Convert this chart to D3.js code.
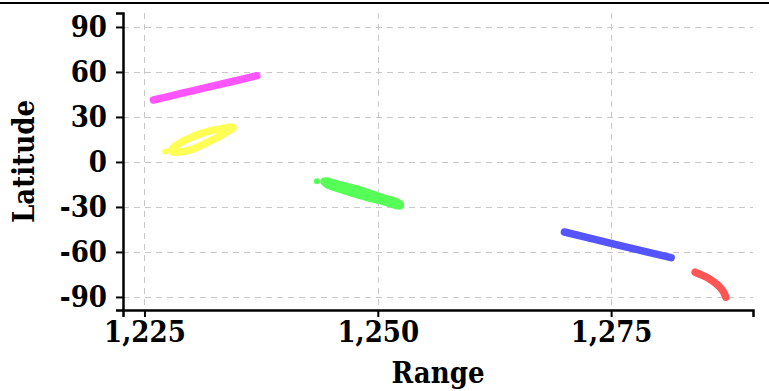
<!DOCTYPE html>
<html>
<head>
<meta charset="utf-8">
<script src="https://cdn.jsdelivr.net/npm/d3@7"></script>
<style>
  body { margin: 0; background: #fff; }
  text { font-family: 'DejaVu Serif', serif; font-weight: bold; font-stretch: condensed; }
</style>
</head>
<body>
<svg width="769" height="391"></svg>
<script>
// ranges and latitudes
const xTicks = [1225, 1250, 1275];
const yTicks = [-90, -60, -30, 0, 30, 60, 90];

const magentaTrack = [[1225.96, 41.3], [1227.75, 43.9], [1229.9, 47.1], [1232.04, 50.2], [1234.18, 53.3], [1237.04, 57.5]];
// yellow loop: upper branch out, lower branch back
const yellowTrack = [[1227.97, 8.7], [1228.82, 12.7], [1229.9, 16.0], [1230.97, 18.7], [1232.04, 20.7], [1233.11, 22.0], [1234.29, 23.3],
    [1234.5, 22.7], [1233.97, 20.7], [1233.11, 17.3], [1232.04, 14.0], [1230.97, 10.7], [1229.9, 8.0], [1228.82, 6.7], [1227.97, 6.7]];
const greenTrack = [[1244.25, -12.7], [1245.97, -15.3], [1248.11, -18.7], [1250.25, -23.3], [1252.39, -28.0],
    [1252.39, -29.3], [1250.79, -26.7], [1248.64, -23.3], [1246.5, -19.3], [1244.47, -14.7]];
const blueTrack = [[1270.0, -46.7], [1275.64, -55.3], [1281.43, -63.8]];
const redTrack = [[1284.0, -73.5], [1285.42, -77.5], [1286.5, -82.5], [1287.03, -86.5], [1287.29, -90.2]];
const strayPoints = [[1227.22, 6.9, '#ffff55'], [1243.47, -12.9, '#55ff55']];

const tracks = [
    { pts: magentaTrack, color: '#ff55ff', closed: false },
    { pts: yellowTrack, color: '#ffff55', closed: true },
    { pts: greenTrack, color: '#55ff55', closed: true },
    { pts: blueTrack, color: '#5555ff', closed: false },
    { pts: redTrack, color: '#ff5555', closed: false }
];

const svg = d3.select('svg');
const width = +svg.attr('width');
const height = +svg.attr('height');
const margin = { top: 13, right: 16, bottom: 81, left: 123 };

const x = d3.scaleLinear()
    .domain([1222.7, 1290.2])
    .range([margin.left, width - margin.right]);

const y = d3.scaleLinear()
    .domain([-98.7, 99.3])
    .range([height - margin.bottom, margin.top]);

// top border
svg.append('line')
    .attr('x1', 0).attr('x2', width)
    .attr('y1', 3).attr('y2', 3)
    .attr('stroke', '#000')
    .attr('stroke-width', 2);

// grid
const grid = svg.append('g')
    .attr('stroke', '#c8c8c8')
    .attr('stroke-width', 1)
    .attr('stroke-dasharray', '6,5');

grid.selectAll('.vg').data(xTicks).enter().append('line')
    .attr('x1', d => Math.round(x(d)) + 0.5).attr('x2', d => Math.round(x(d)) + 0.5)
    .attr('y1', margin.top).attr('y2', height - margin.bottom);

grid.selectAll('.hg').data(yTicks).enter().append('line')
    .attr('x1', margin.left).attr('x2', width - margin.right)
    .attr('y1', d => Math.round(y(d)) + 0.5).attr('y2', d => Math.round(y(d)) + 0.5);

// tracks
const line = d3.line()
    .x(d => x(d[0]))
    .y(d => y(d[1]));

svg.selectAll('.track').data(tracks).enter().append('path')
    .attr('d', d => line.curve(d.closed ? d3.curveCatmullRomClosed : d3.curveCatmullRom)(d.pts))
    .attr('fill', 'none')
    .attr('stroke', d => d.color)
    .attr('stroke-width', 7.5)
    .attr('stroke-linecap', 'round')
    .attr('stroke-linejoin', 'round');

svg.selectAll('.stray').data(strayPoints).enter().append('circle')
    .attr('cx', d => x(d[0]))
    .attr('cy', d => y(d[1]))
    .attr('r', 3)
    .attr('fill', d => d[2]);

// axes
const xAxis = svg.append('g')
    .attr('transform', `translate(0, ${height - margin.bottom})`)
    .call(d3.axisBottom(x).tickValues(xTicks).tickFormat(d3.format(',')).tickSizeOuter(0).tickSize(7).tickPadding(4));

const yAxis = svg.append('g')
    .attr('transform', `translate(${margin.left}, 0)`)
    .call(d3.axisLeft(y).tickValues(yTicks).tickFormat(d => String(d)).tickSizeOuter(0).tickSize(7).tickPadding(9));

[xAxis, yAxis].forEach(a => {
    a.attr('font-family', null).attr('font-size', null);
    a.select('.domain').attr('stroke', '#000').attr('stroke-width', 2.5);
    a.selectAll('.tick line').attr('stroke', '#000').attr('stroke-width', 2);
    a.selectAll('.tick text')
        .attr('fill', '#000')
        .style('font-size', '29px');
});

svg.append('text')
    .attr('x', (margin.left + width - margin.right) / 2)
    .attr('y', 383)
    .attr('text-anchor', 'middle')
    .style('font-size', '29px')
    .text('Range');

svg.append('text')
    .attr('transform', `translate(34, ${(margin.top + height - margin.bottom) / 2}) rotate(-90)`)
    .attr('text-anchor', 'middle')
    .style('font-size', '29px')
    .text('Latitude');
</script>
</body>
</html>
